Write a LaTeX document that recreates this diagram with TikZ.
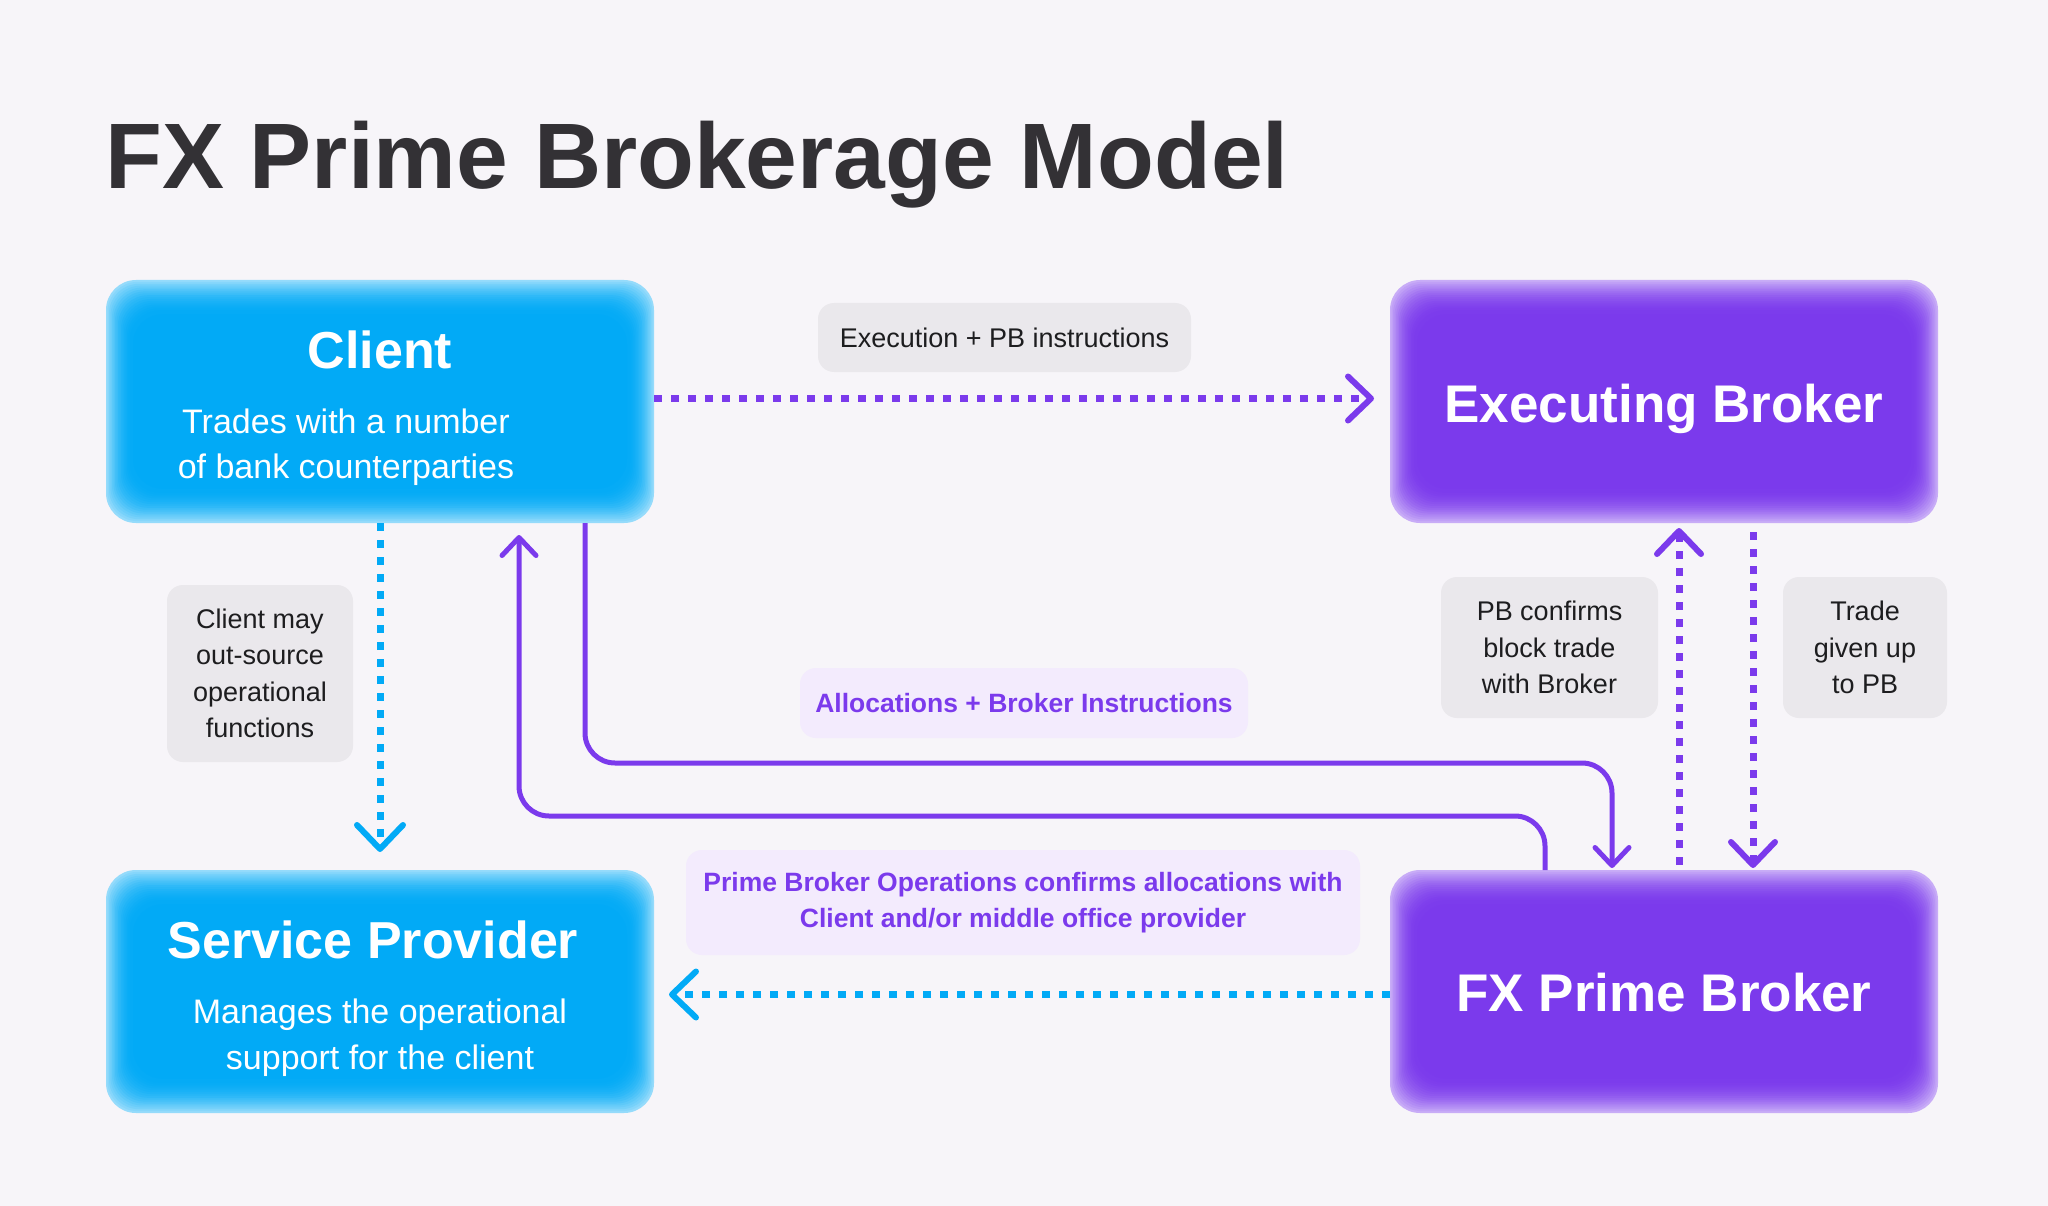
\documentclass[tikz,border=0pt]{standalone}
\usepackage{fontspec}
\setmainfont{Liberation Sans}
\usetikzlibrary{arrows.meta}
\definecolor{bgc}{HTML}{F7F5F9}
\definecolor{bluec}{HTML}{02AAF6}
\definecolor{purc}{HTML}{7B3AEC}
\definecolor{titlec}{HTML}{333135}
\definecolor{labelbg}{HTML}{EAE8EC}
\definecolor{labeltx}{HTML}{1D1D1F}
\definecolor{plabelbg}{HTML}{F3EBFD}
\tikzset{
  glowbox/.style={rounded corners=30pt, minimum width=548pt, minimum height=243pt,
    inner sep=0pt, outer sep=0pt, fill=#1!42!white,
    path picture={
      \foreach \i in {1,...,18}{
        \pgfmathtruncatemacro\p{min(100,100-58*(1-\i/18)^2)}
        \fill[#1!\p!white, rounded corners=30pt]
          ([shift={(\i*1.5pt,-\i*1.9pt)}]path picture bounding box.north west) rectangle
          ([shift={(-\i*1.5pt,\i*1.9pt)}]path picture bounding box.south east);
      }}},
  boxtitle/.style={text=white, font=\bfseries\fontsize{52}{60}\selectfont, anchor=base, inner sep=0pt},
  boxsub/.style={text=white, font=\fontsize{34}{45}\selectfont, anchor=base, inner sep=0pt},
  glabel/.style={fill=labelbg, rounded corners=16pt, text=labeltx,
    font=\fontsize{27}{36.5}\selectfont, align=center, inner sep=0pt},
  plabel/.style={fill=plabelbg, rounded corners=16pt, text=purc,
    font=\bfseries\fontsize{26.5}{36}\selectfont, align=center, inner sep=0pt},
  dotp/.style={draw=purc, line width=7pt, dash pattern=on 8pt off 9pt,
    -{Straight Barb[length=23pt, width=44pt, line width=6pt, round]}},
  dotb/.style={draw=bluec, line width=7pt, dash pattern=on 8pt off 9pt,
    -{Straight Barb[length=24pt, width=46pt, line width=6pt, round]}},
  solp/.style={draw=purc, line width=5pt, rounded corners=30pt,
    -{Straight Barb[length=18pt, width=34pt, line width=5pt, round]}}
}
\begin{document}
\begin{tikzpicture}[x=1pt,y=-1pt]
\useasboundingbox (0,0) rectangle (2048,1206);
\fill[bgc] (0,0) rectangle (2048,1206);

\node[anchor=base west, font=\bfseries\fontsize{93}{100}\selectfont, text=titlec, inner sep=0pt]
  (title) at (105,189) {FX Prime Brokerage Model};

% boxes
\node[glowbox=bluec] (client) at (380,401.5) {};
\node[glowbox=purc] (exec) at (1664,401.5) {};
\node[glowbox=bluec] (sp) at (380,991.5) {};
\node[glowbox=purc] (fxpb) at (1664,991.5) {};

\node[boxtitle] (clientT) at (380,368) {Client};
\node[boxsub] (clientS1) at (346,433) {Trades with a number};
\node[boxsub] (clientS2) at (346,478) {of bank counterparties};
\node[boxtitle, font=\bfseries\fontsize{53}{60}\selectfont] (execT) at (1664,422) {Executing Broker};
\node[boxtitle] (spT) at (373,958) {Service Provider};
\node[boxsub] (spS1) at (380,1023) {Manages the operational};
\node[boxsub] (spS2) at (380,1069) {support for the client};
\node[boxtitle, font=\bfseries\fontsize{53}{60}\selectfont] (fxpbT) at (1664,1011) {FX Prime Broker};

% labels
\node[glabel, minimum width=373pt, minimum height=69pt] (exlab) at (1004.5,337.5) {Execution + PB instructions};
\node[glabel, minimum width=186pt, minimum height=177pt] (cmlab) at (260,673.5) {Client may\\out-source\\operational\\functions};
\node[glabel, minimum width=217pt, minimum height=141pt] (pblab) at (1549.5,647.5) {PB confirms\\block trade\\with Broker};
\node[glabel, minimum width=164pt, minimum height=141pt] (tglab) at (1865,647.5) {Trade\\given up\\to PB};
\node[plabel, minimum width=448pt, minimum height=70pt] (allab) at (1024,703) {Allocations + Broker Instructions};
\node[plabel, minimum width=674pt, minimum height=105pt] (opslab) at (1023,902.5) {Prime Broker Operations confirms allocations with\\Client and/or middle office provider};

% connectors
\coordinate (h1) at (1000,763);
\coordinate (h2) at (1000,816);
\draw[dotp, shorten >=16pt] ([yshift=3pt]client.east) -- ([yshift=3pt]exec.west);
\draw[dotb, shorten >=18pt] (client.south) -- (sp.north);
\draw[dotb, shorten >=15pt] ([yshift=-3pt]fxpb.west) -- ([yshift=-3pt]sp.east);
\draw[dotp, shorten <=9pt, shorten >=2pt] ([xshift=89pt]exec.south) -- ([xshift=89pt]fxpb.north);
\draw[dotp, shorten <=5pt, shorten >=5pt] ([xshift=15pt]fxpb.north) -- ([xshift=15pt]exec.south);
\draw[solp, shorten >=2pt] ([xshift=205pt]client.south) |- (h1) -| ([xshift=-52pt]fxpb.north);
\draw[solp, shorten >=12pt] ([xshift=-119pt]fxpb.north) |- (h2) -| ([xshift=139pt]client.south);
\end{tikzpicture}
\end{document}
